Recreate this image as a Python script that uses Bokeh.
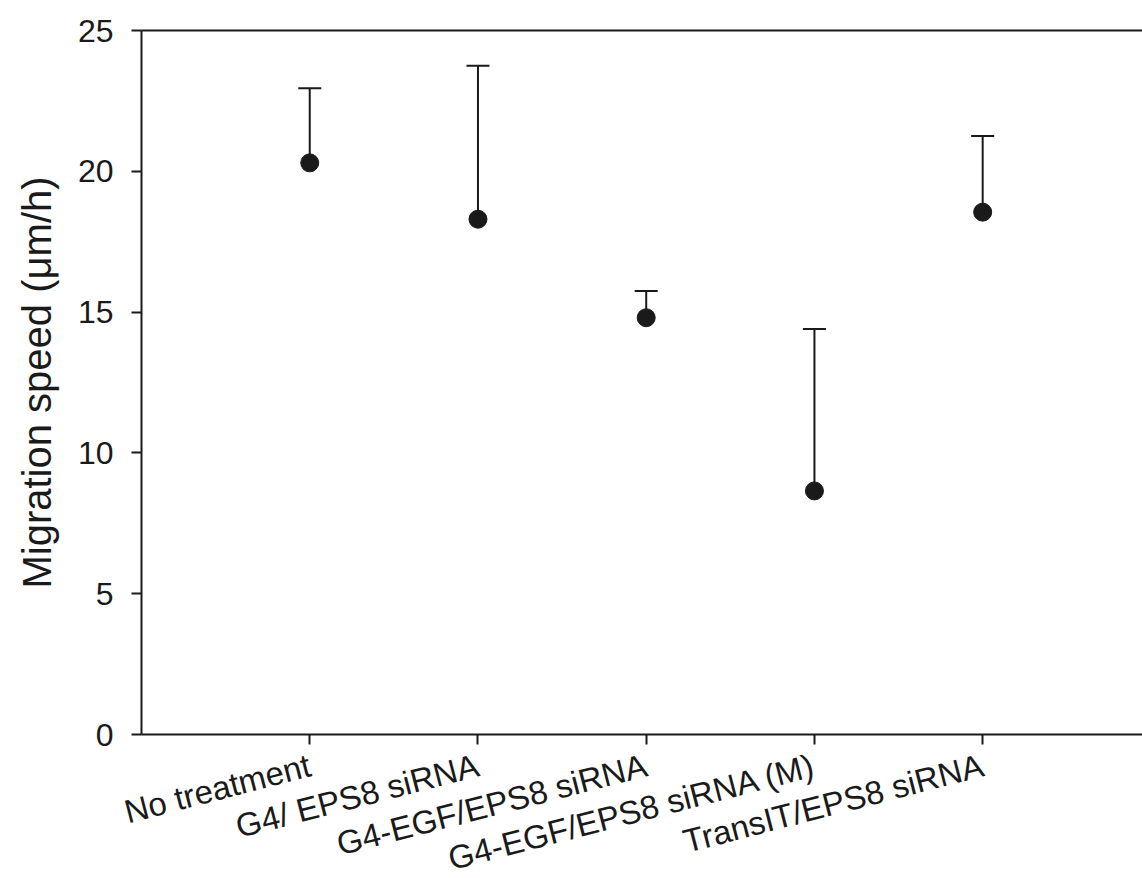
import math
from bokeh.plotting import figure
from bokeh.models import Range1d, FixedTicker, LinearAxis
from bokeh.embed import file_html
from bokeh.resources import INLINE

categories = ["No treatment", "G4/ EPS8 siRNA", "G4-EGF/EPS8 siRNA",
              "G4-EGF/EPS8 siRNA (M)", "TransIT/EPS8 siRNA"]
positions = [1, 2, 3, 4, 5]
means = [20.3, 18.3, 14.8, 8.65, 18.55]
upper = [22.95, 23.75, 15.75, 14.4, 21.25]
y_ticks = [0, 5, 10, 15, 20, 25]

FONT = "Liberation Sans"
INK = "#1a1a1a"

p = figure(frame_width=1001, frame_height=704, output_backend="svg", toolbar_location=None,
           x_range=Range1d(0, 5.95), y_range=Range1d(0, 25),
           min_border_left=141, min_border_top=30, min_border_right=0,
           min_border_bottom=140)
p.outline_line_color = None
p.grid.grid_line_color = None
p.background_fill_color = "white"
p.border_fill_color = "white"

# error bars (upper only)
p.segment(x0=positions, y0=means, x1=positions, y1=upper, line_color=INK, line_width=2)
p.scatter(x=positions, y=upper, marker="dash", size=23, line_color=INK, line_width=2)
p.scatter(x=positions, y=means, marker="circle", size=18, fill_color=INK, line_color=INK)

xa = p.xaxis[0]
xa.ticker = FixedTicker(ticks=positions)
xa.major_label_overrides = {pos: lab for pos, lab in zip(positions, categories)}
xa.major_label_orientation = math.radians(14.5)
ya = p.yaxis[0]
ya.ticker = FixedTicker(ticks=y_ticks)
ya.axis_label = "Migration speed (\u03bcm/h)"

for ax in (xa, ya):
    ax.axis_line_color = INK
    ax.axis_line_width = 2
    ax.major_tick_line_color = INK
    ax.major_tick_line_width = 2
    ax.major_tick_out = 10
    ax.major_tick_in = 0
    ax.minor_tick_line_color = None
    ax.major_label_text_font = FONT
    ax.major_label_text_color = INK
    ax.axis_label_text_font = FONT
    ax.axis_label_text_font_size = "40px"
    ax.axis_label_text_font_style = "normal"
    ax.axis_label_text_color = INK
xa.major_label_text_font_size = "33px"
ya.major_label_text_font_size = "32px"
ya.major_label_standoff = 18
xa.major_label_standoff = 20
ya.axis_label_standoff = 16

top = LinearAxis(ticker=FixedTicker(ticks=[]), axis_line_color=INK, axis_line_width=2,
                 major_tick_line_color=None, minor_tick_line_color=None,
                 major_label_text_font_size="0px")
p.add_layout(top, "above")

open("out.html", "w").write(file_html(p, INLINE))
